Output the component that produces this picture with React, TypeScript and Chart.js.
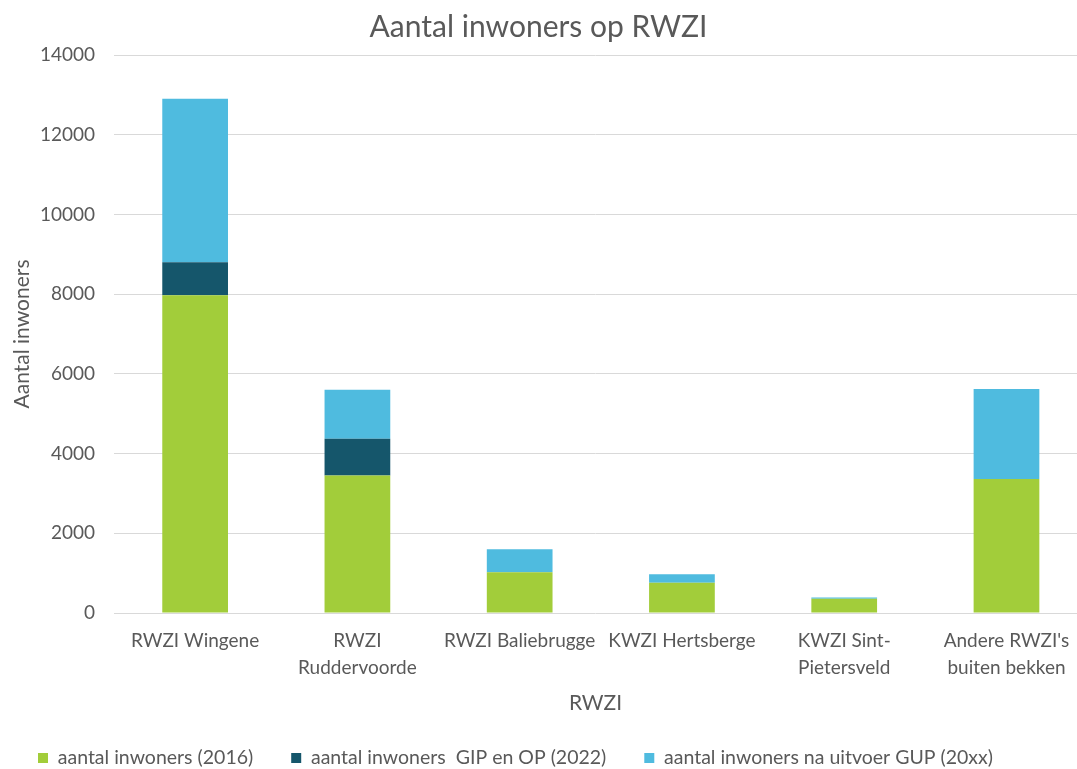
import { useEffect, useRef } from 'react';
import { Chart, registerables } from 'chart.js';

Chart.register(...registerables);

const categories: string[][] = [
  ['RWZI Wingene'],
  ['RWZI', 'Ruddervoorde'],
  ['RWZI Baliebrugge'],
  ['KWZI Hertsberge'],
  ['KWZI Sint-', 'Pietersveld'],
  ["Andere RWZI's", 'buiten bekken'],
];
const seriesLabels = [
  'aantal inwoners (2016)',
  'aantal inwoners  GIP en OP (2022)',
  'aantal inwoners na uitvoer GUP (20xx)',
];
const inwoners2016 = [7970, 3450, 1020, 760, 355, 3360];
const inwonersGipOp2022 = [830, 920, 0, 0, 0, 0];
const inwonersNaGup = [4100, 1230, 580, 215, 35, 2260];
const yTicks = [0, 2000, 4000, 6000, 8000, 10000, 12000, 14000];

const TEXT = '#595959';
const FONT = 'Lato, "Open Sans", sans-serif';

export default function App() {
  const ref = useRef<HTMLCanvasElement>(null);

  useEffect(() => {
    const toPoints = (arr: number[]) => arr.map((y, i) => ({ x: i, y }));
    const chart = new Chart(ref.current!, {
      type: 'bar',
      data: {
        datasets: [
          { label: seriesLabels[0], data: toPoints(inwoners2016), backgroundColor: '#A2CD3A', borderWidth: 0 },
          { label: seriesLabels[1], data: toPoints(inwonersGipOp2022), backgroundColor: '#15566B', borderWidth: 0 },
          { label: seriesLabels[2], data: toPoints(inwonersNaGup), backgroundColor: '#4FBBDF', borderWidth: 0 },
        ],
      } as any,
      options: {
        animation: false,
        responsive: false,
        maintainAspectRatio: false,
        layout: { padding: { left: 0, right: 0, top: 0, bottom: -8.75 } },
        datasets: { bar: { categoryPercentage: 1, barPercentage: 0.405 } },
        scales: {
          x: {
            type: 'linear',
            offset: false,
            stacked: true,
            min: -0.5,
            max: 5.4346,
            grid: { display: false, drawTicks: false },
            border: { display: false },
            afterBuildTicks: (s: any) => {
              s.ticks = categories.map((_, i) => ({ value: i }));
            },
            afterFit: (s: any) => {
              s.height = 97.25;
              s.paddingLeft = 0;
              s.paddingRight = 0;
            },
            ticks: {
              autoSkip: false,
              maxRotation: 0,
              minRotation: 0,
              padding: 14.5,
              color: TEXT,
              font: { family: FONT, size: 19, lineHeight: 1.42 },
              callback: (v: any) => categories[v] ?? '',
            },
            title: {
              display: true,
              text: 'RWZI',
              color: TEXT,
              font: { family: FONT, size: 21 },
              padding: { top: 0, bottom: -5.35 },
            },
          },
          y: {
            stacked: true,
            min: yTicks[0],
            max: yTicks[yTicks.length - 1],
            afterBuildTicks: (s: any) => {
              s.ticks = yTicks.map((v) => ({ value: v }));
            },
            afterFit: (s: any) => {
              s.width = 114;
            },
            grid: { color: '#D9D9D9', lineWidth: 1, drawTicks: false },
            border: { display: false },
            ticks: {
              padding: 19,
              color: TEXT,
              font: { family: FONT, size: 19 },
              callback: (v: any) => String(v),
            },
            title: {
              display: true,
              text: 'Aantal inwoners',
              color: TEXT,
              font: { family: FONT, size: 21 },
              padding: { top: 10, bottom: 0 },
            },
          },
        },
        plugins: {
          title: {
            display: true,
            text: 'Aantal inwoners op RWZI',
            color: TEXT,
            font: { family: FONT, size: 30, weight: 'normal' },
            padding: { top: 9, bottom: 10 },
          },
          legend: {
            position: 'bottom',
            align: 'start',
            labels: {
              boxWidth: 10,
              boxHeight: 10,
              padding: 38,
              color: TEXT,
              font: { family: FONT, size: 19.5 },
            },
          },
          tooltip: { enabled: false },
        },
      } as any,
    });
    return () => chart.destroy();
  }, []);

  return (
    <div style={{ position: 'fixed', left: 0, top: 0, width: 1077, height: 769, background: '#fff', overflow: 'hidden' }}>
      <canvas ref={ref} width={1077} height={769} style={{ display: 'block', width: 1077, height: 769 }} />
    </div>
  );
}
